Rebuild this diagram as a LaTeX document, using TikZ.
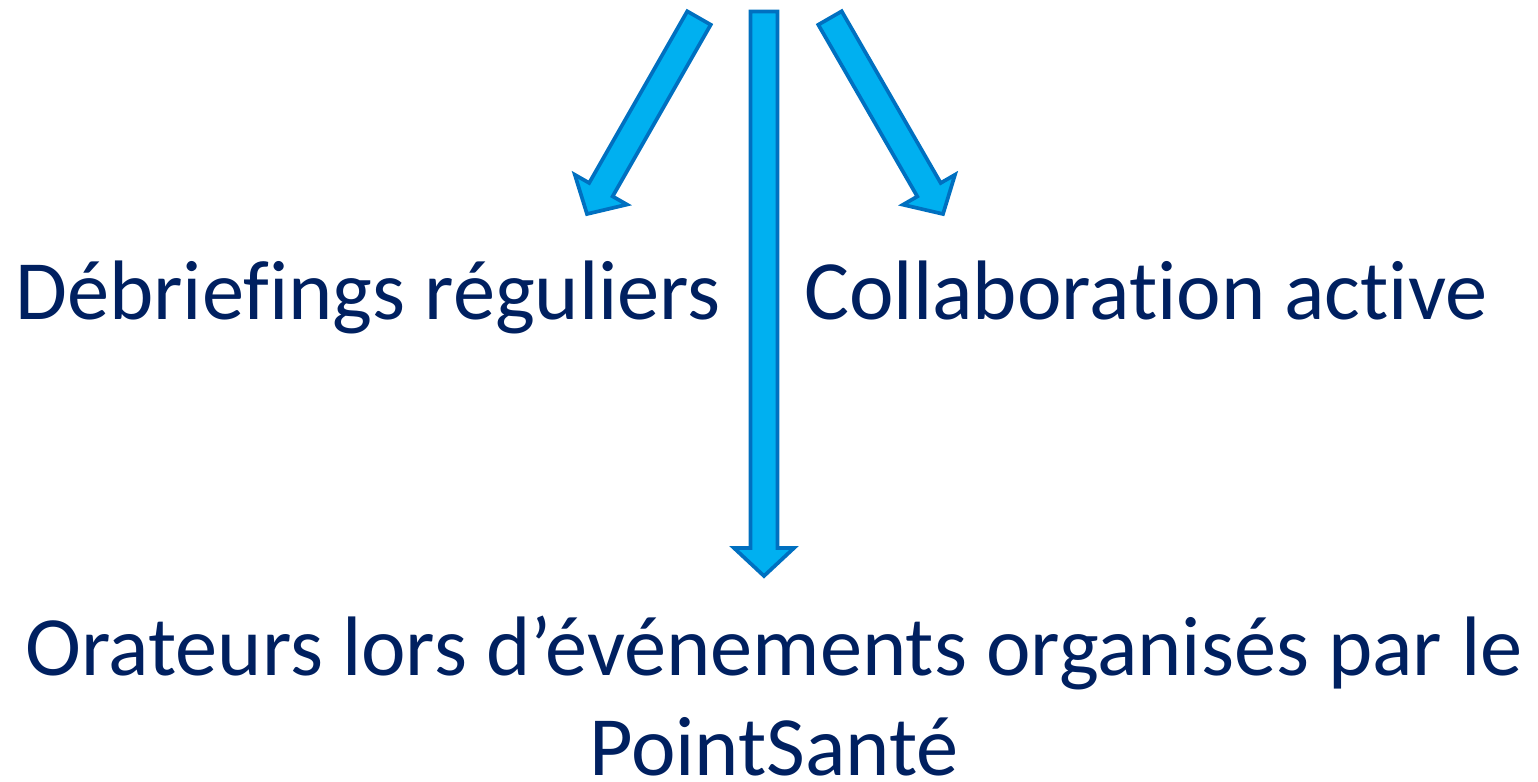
\documentclass[tikz,border=0pt]{standalone}
\usepackage{fontspec}
\setmainfont{Carlito}[Ligatures=CommonOff]
\usepackage{tikz}
\usetikzlibrary{calc}
\definecolor{arrowfill}{HTML}{00B0F0}
\definecolor{arrowline}{HTML}{0070C0}
\definecolor{labelblue}{HTML}{002060}
\def\shafthw{0.135cm}
\def\headhw{0.30cm}
\def\headlen{0.28cm}
\def\blockarrow[#1](#2)(#3){%
	\coordinate (#2-h) at ($(#3)!\headlen!(#2)$);
	\draw[#1] ($(#2)!\shafthw!90:(#3)$) -- ($(#2-h)!\shafthw!90:(#3)$) -- ($(#2-h)!\headhw!90:(#3)$) -- (#3) -- ($(#2-h)!\headhw!-90:(#3)$) -- ($(#2-h)!\shafthw!-90:(#3)$) -- ($(#2)!\shafthw!-90:(#3)$) -- cycle;}
\tikzset{
	blockstyle/.style={fill=arrowfill, draw=arrowline, line width=1.05pt, line join=miter},
	lbl/.style={text=labelblue, font=\fontsize{24}{28.2}\selectfont, inner sep=0pt, anchor=base}
}

\begin{document}
\begin{tikzpicture}[x=0.01cm, y=-0.01cm]
			%%%%% START %%%%%
			
			\useasboundingbox (0, 0) rectangle (1538, 782);
			
			\node[lbl] (debrief) at (368, 320) {Débriefings réguliers};
			\node[lbl] (collab) at (1146, 320) {Collaboration active};
			% base of this node is the second line
			\node[lbl, align=center] (orateurs) at (774, 775) {Orateurs lors d’événements organisés par le\\PointSanté};
			
			\coordinate (ltail) at (699, 18);
			\coordinate (ltip) at (587, 214);
			\coordinate (mtail) at (764, 11.5);
			\coordinate (mtip) at (764, 576);
			\coordinate (rtail) at (830, 18);
			\coordinate (rtip) at (943, 214);
			
			\blockarrow[blockstyle](ltail)(ltip)
			\blockarrow[blockstyle](mtail)(mtip)
			\blockarrow[blockstyle](rtail)(rtip)
			
			%%%%% END %%%%%
		\end{tikzpicture}
\end{document}
